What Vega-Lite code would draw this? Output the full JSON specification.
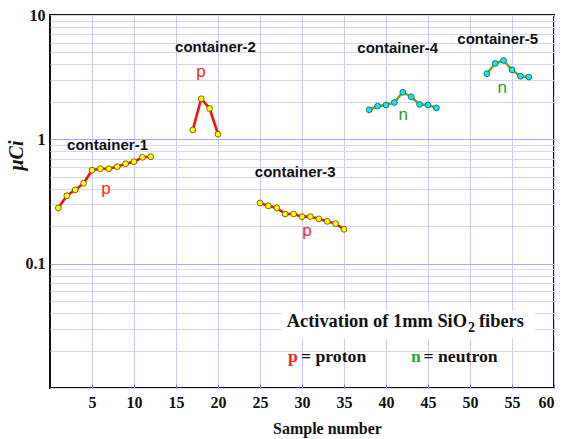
{
  "$schema": "https://vega.github.io/schema/vega-lite/v6.json",
  "width": 504,
  "height": 373,
  "autosize": "none",
  "padding": {"left": 50, "top": 15, "right": 8, "bottom": 51},
  "background": "white",
  "config": {
    "view": {"stroke": "#111111", "strokeWidth": 2}
  },
  "datasets": {
    "series": [
      {"sample": 1, "uCi": 0.281, "container": "container-1", "particle": "p"},
      {"sample": 2, "uCi": 0.352, "container": "container-1", "particle": "p"},
      {"sample": 3, "uCi": 0.392, "container": "container-1", "particle": "p"},
      {"sample": 4, "uCi": 0.443, "container": "container-1", "particle": "p"},
      {"sample": 5, "uCi": 0.564, "container": "container-1", "particle": "p"},
      {"sample": 6, "uCi": 0.58, "container": "container-1", "particle": "p"},
      {"sample": 7, "uCi": 0.58, "container": "container-1", "particle": "p"},
      {"sample": 8, "uCi": 0.603, "container": "container-1", "particle": "p"},
      {"sample": 9, "uCi": 0.637, "container": "container-1", "particle": "p"},
      {"sample": 10, "uCi": 0.661, "container": "container-1", "particle": "p"},
      {"sample": 11, "uCi": 0.717, "container": "container-1", "particle": "p"},
      {"sample": 12, "uCi": 0.725, "container": "container-1", "particle": "p"},
      {"sample": 17, "uCi": 1.19, "container": "container-2", "particle": "p"},
      {"sample": 18, "uCi": 2.12, "container": "container-2", "particle": "p"},
      {"sample": 19, "uCi": 1.77, "container": "container-2", "particle": "p"},
      {"sample": 20, "uCi": 1.1, "container": "container-2", "particle": "p"},
      {"sample": 25, "uCi": 0.308, "container": "container-3", "particle": "p"},
      {"sample": 26, "uCi": 0.291, "container": "container-3", "particle": "p"},
      {"sample": 27, "uCi": 0.281, "container": "container-3", "particle": "p"},
      {"sample": 28, "uCi": 0.251, "container": "container-3", "particle": "p"},
      {"sample": 29, "uCi": 0.251, "container": "container-3", "particle": "p"},
      {"sample": 30, "uCi": 0.239, "container": "container-3", "particle": "p"},
      {"sample": 31, "uCi": 0.239, "container": "container-3", "particle": "p"},
      {"sample": 32, "uCi": 0.229, "container": "container-3", "particle": "p"},
      {"sample": 33, "uCi": 0.219, "container": "container-3", "particle": "p"},
      {"sample": 34, "uCi": 0.21, "container": "container-3", "particle": "p"},
      {"sample": 35, "uCi": 0.189, "container": "container-3", "particle": "p"},
      {"sample": 38, "uCi": 1.73, "container": "container-4", "particle": "n"},
      {"sample": 39, "uCi": 1.85, "container": "container-4", "particle": "n"},
      {"sample": 40, "uCi": 1.89, "container": "container-4", "particle": "n"},
      {"sample": 41, "uCi": 1.98, "container": "container-4", "particle": "n"},
      {"sample": 42, "uCi": 2.39, "container": "container-4", "particle": "n"},
      {"sample": 43, "uCi": 2.2, "container": "container-4", "particle": "n"},
      {"sample": 44, "uCi": 1.91, "container": "container-4", "particle": "n"},
      {"sample": 45, "uCi": 1.89, "container": "container-4", "particle": "n"},
      {"sample": 46, "uCi": 1.79, "container": "container-4", "particle": "n"},
      {"sample": 52, "uCi": 3.37, "container": "container-5", "particle": "n"},
      {"sample": 53, "uCi": 4.08, "container": "container-5", "particle": "n"},
      {"sample": 54, "uCi": 4.31, "container": "container-5", "particle": "n"},
      {"sample": 55, "uCi": 3.62, "container": "container-5", "particle": "n"},
      {"sample": 56, "uCi": 3.22, "container": "container-5", "particle": "n"},
      {"sample": 57, "uCi": 3.17, "container": "container-5", "particle": "n"}
    ],
    "containerLabels": [
      {"sample": 6.85, "uCi": 0.9, "text": "container-1"},
      {"sample": 19.7, "uCi": 5.56, "text": "container-2"},
      {"sample": 29.2, "uCi": 0.551, "text": "container-3"},
      {"sample": 41.4, "uCi": 5.46, "text": "container-4"},
      {"sample": 53.3, "uCi": 6.39, "text": "container-5"}
    ],
    "particleLabels": [
      {"sample": 6.67, "uCi": 0.4, "text": "p", "particle": "p"},
      {"sample": 17.98, "uCi": 3.5, "text": "p", "particle": "p"},
      {"sample": 30.6, "uCi": 0.182, "text": "p", "particle": "p"},
      {"sample": 42.06, "uCi": 1.58, "text": "n", "particle": "n"},
      {"sample": 53.85, "uCi": 2.6, "text": "n", "particle": "n"}
    ],
    "noteBox": [
      {"x1": 27.58, "x2": 57.74, "y1": 0.0249, "y2": 0.0418}
    ],
    "noteTitle": [
      {"sample": 28.18, "uCi": 0.0347, "text": "Activation of 1mm SiO"},
      {"sample": 51.07, "uCi": 0.0347, "text": "fibers"}
    ],
    "noteSub": [
      {"sample": 49.75, "uCi": 0.0303, "text": "2"}
    ],
    "noteKeyText": [
      {"sample": 29.88, "uCi": 0.0178, "text": "= proton"},
      {"sample": 44.46, "uCi": 0.0178, "text": "= neutron"}
    ],
    "noteKeys": [
      {"sample": 28.33, "uCi": 0.0178, "text": "p", "particle": "p"},
      {"sample": 42.98, "uCi": 0.0178, "text": "n", "particle": "n"}
    ]
  },
  "encoding": {
    "x": {
      "field": "sample",
      "type": "quantitative",
      "scale": {"domain": [0, 60], "nice": false, "zero": false},
      "axis": {
        "title": "Sample number",
        "values": [5, 10, 15, 20, 25, 30, 35, 40, 45, 50, 55, 60],
        "grid": true,
        "gridColor": "#cdcdf3",
        "gridWidth": 1,
        "domain": false,
        "ticks": true,
        "tickColor": "#7d7de8",
        "tickSize": -4,
        "labelFont": "Liberation Serif",
        "labelFontWeight": "bold",
        "labelFontSize": 16,
        "labelColor": "#111111",
        "labelPadding": 10,
        "titleFont": "Liberation Serif",
        "titleFontWeight": "bold",
        "titleFontSize": 16,
        "titleColor": "#111111",
        "titleX": 277,
        "titleY": 32,
        "titleAnchor": "middle"
      }
    },
    "y": {
      "field": "uCi",
      "type": "quantitative",
      "scale": {"type": "log", "domain": [0.01, 10], "nice": false},
      "axis": {
        "title": "μCi",
        "values": [0.01, 0.02, 0.03, 0.04, 0.05, 0.06, 0.07, 0.08, 0.09, 0.1, 0.2, 0.3, 0.4, 0.5, 0.6, 0.7, 0.8, 0.9, 1, 2, 3, 4, 5, 6, 7, 8, 9, 10],
        "labelExpr": "datum.value == 10 ? '10' : datum.value == 1 ? '1' : datum.value == 0.1 ? '0.1' : ''",
        "grid": true,
        "gridColor": {"condition": {"test": "datum.value == 1 || datum.value == 0.1", "value": "#a9a9ee"}, "value": "#d6d6f5"},
        "gridWidth": 1,
        "domain": false,
        "ticks": false,
        "labelFont": "Liberation Serif",
        "labelFontWeight": "bold",
        "labelFontSize": 16,
        "labelColor": "#111111",
        "labelPadding": 5,
        "titleFont": "Liberation Serif",
        "titleFontWeight": "bold",
        "titleFontStyle": "italic",
        "titleFontSize": 20,
        "titleColor": "#111111",
        "titleX": -34,
        "titleY": 140,
        "titleAngle": -90,
        "titleAlign": "center",
        "titleBaseline": "middle"
      }
    }
  },
  "layer": [
    {
      "data": {"name": "noteBox"},
      "mark": {"type": "rect", "fill": "white", "stroke": null},
      "encoding": {
        "x": {"field": "x1", "type": "quantitative"},
        "x2": {"field": "x2"},
        "y": {"field": "y1", "type": "quantitative"},
        "y2": {"field": "y2"}
      }
    },
    {
      "data": {"name": "series"},
      "mark": {"type": "line", "strokeWidth": 2.6},
      "encoding": {
        "detail": {"field": "container", "type": "nominal"},
        "stroke": {
          "condition": {"test": "datum.particle == 'p'", "value": "#ff0d0d"},
          "value": "#7aa81c"
        }
      }
    },
    {
      "data": {"name": "series"},
      "mark": {"type": "point", "filled": true, "size": 34, "strokeWidth": 0.9, "opacity": 1},
      "encoding": {
        "fill": {
          "condition": {"test": "datum.particle == 'p'", "value": "#ffff00"},
          "value": "#22e0e8"
        },
        "stroke": {
          "condition": {"test": "datum.particle == 'p'", "value": "#6b5a00"},
          "value": "#0b6f7a"
        }
      }
    },
    {
      "data": {"name": "containerLabels"},
      "mark": {"type": "text", "font": "Liberation Sans", "fontWeight": "bold", "fontSize": 15, "align": "center", "baseline": "middle", "fill": "#111111"},
      "encoding": {"text": {"field": "text"}}
    },
    {
      "data": {"name": "particleLabels"},
      "mark": {"type": "text", "font": "Liberation Sans", "fontSize": 17, "align": "center", "baseline": "middle"},
      "encoding": {
        "text": {"field": "text"},
        "fill": {
          "condition": {"test": "datum.particle == 'p'", "value": "#ff1f1f"},
          "value": "#2a9a2a"
        }
      }
    },
    {
      "data": {"name": "noteTitle"},
      "mark": {"type": "text", "font": "Liberation Serif", "fontWeight": "bold", "fontSize": 18.4, "align": "left", "baseline": "middle", "fill": "#111111"},
      "encoding": {"text": {"field": "text"}}
    },
    {
      "data": {"name": "noteSub"},
      "mark": {"type": "text", "font": "Liberation Serif", "fontWeight": "bold", "fontSize": 14, "align": "left", "baseline": "middle", "fill": "#111111"},
      "encoding": {"text": {"field": "text"}}
    },
    {
      "data": {"name": "noteKeyText"},
      "mark": {"type": "text", "font": "Liberation Serif", "fontWeight": "bold", "fontSize": 17.7, "align": "left", "baseline": "middle", "fill": "#111111"},
      "encoding": {"text": {"field": "text"}}
    },
    {
      "data": {"name": "noteKeys"},
      "mark": {"type": "text", "font": "Liberation Serif", "fontWeight": "bold", "fontSize": 17.7, "align": "left", "baseline": "middle"},
      "encoding": {
        "text": {"field": "text"},
        "fill": {
          "condition": {"test": "datum.particle == 'p'", "value": "#ff1f1f"},
          "value": "#22aa33"
        }
      }
    }
  ]
}
